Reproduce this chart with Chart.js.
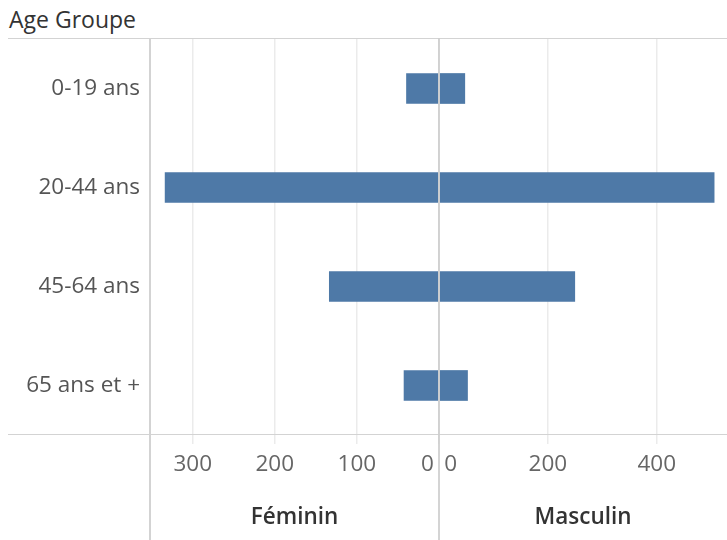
<!DOCTYPE html>
<html>
<head>
<meta charset="utf-8">
<script src="https://cdn.jsdelivr.net/npm/chart.js@4"></script>
<style>
  body { margin: 0; background: #fff; }
  #wrap { position: relative; width: 727px; height: 540px; overflow: hidden; background: #fff; font-family: "Open Sans", sans-serif; }
  canvas { position: absolute; top: 0; }
  #c-fem { left: 0; }
  #c-mas { left: 439px; }
  .hdr { position: absolute; left: 9px; top: 8px; font-size: 23px; line-height: 23px; color: #333; }
  .ln { position: absolute; background: #d3d3d3; z-index: 2; }
</style>
</head>
<body>
<div id="wrap">
  <div class="hdr">Age Groupe</div>
  <canvas id="c-fem" width="439" height="540"></canvas>
  <canvas id="c-mas" width="288" height="540"></canvas>
  <!-- panel frame lines -->
  <div class="ln" style="left:8px; top:38px; width:719px; height:1px;"></div>
  <div class="ln" style="left:8px; top:434px; width:719px; height:1px;"></div>
  <div class="ln" style="left:149px; top:38px; width:2px; height:502px;"></div>
  <div class="ln" style="left:438px; top:38px; width:2px; height:502px; background:rgba(205,205,205,0.85);"></div>
</div>
<script>
// ---- data ----
const ageGroups = ['0-19 ans', '20-44 ans', '45-64 ans', '65 ans et +'];
const feminin = [40, 334, 134, 43];
const masculin = [48, 506, 250, 53];
const femTicks = [0, 100, 200, 300];
const masTicks = [0, 200, 400];
const FEM_MAX = 352;
const MAS_MAX = 529;

const BAR_COLOR = '#4e79a7';
const FONT = '"Open Sans", sans-serif';
const FSIZE = 22.5;

function xAxis(ticks, max, reverse, title, zeroLabel) {
  return {
    type: 'linear',
    min: 0,
    max: max,
    reverse: reverse,
    afterBuildTicks: s => { s.ticks = ticks.map(v => ({ value: v })); },
    afterFit: s => {
      s.height = 105;
      s.paddingLeft = 0;
      s.paddingRight = 0;
    },
    ticks: {
      font: { family: FONT, size: FSIZE },
      color: '#666',
      padding: 7,
      maxRotation: 0,
      autoSkip: false,
      callback: v => (v === 0 ? zeroLabel : String(v)),
    },
    grid: { color: '#ebebeb', lineWidth: 1.5, tickLength: 9 },
    border: { display: false },
    title: {
      display: true,
      text: title,
      font: { family: FONT, size: FSIZE, weight: '600' },
      color: '#333',
      padding: { top: 0, bottom: 9 },
    },
  };
}

function barDataset(values) {
  return {
    data: values,
    backgroundColor: BAR_COLOR,
    categoryPercentage: 1,
    barPercentage: 0.31,
  };
}

const common = {
  indexAxis: 'y',
  responsive: false,
  animation: false,
  devicePixelRatio: 1,
  plugins: { legend: { display: false }, tooltip: { enabled: false } },
  layout: { padding: { top: 39, bottom: 0, left: 0, right: 0 } },
};

new Chart(document.getElementById('c-fem'), {
  type: 'bar',
  data: { labels: ageGroups, datasets: [barDataset(feminin)] },
  options: {
    ...common,
    scales: {
      x: xAxis(femTicks, FEM_MAX, true, 'Féminin', '0\u00a0\u00a0\u00a0\u00a0'),
      y: {
        type: 'category',
        afterFit: s => { s.width = 150; s.paddingTop = 0; s.paddingBottom = 0; },
        ticks: { font: { family: FONT, size: FSIZE }, color: '#555', padding: 10 },
        grid: { display: false, drawTicks: false },
        border: { display: false },
      },
    },
  },
});

new Chart(document.getElementById('c-mas'), {
  type: 'bar',
  data: { labels: ageGroups, datasets: [barDataset(masculin)] },
  options: {
    ...common,
    scales: {
      x: xAxis(masTicks, MAS_MAX, false, 'Masculin', '\u00a0\u00a0\u00a0\u00a00'),
      y: { type: 'category', display: false },
    },
  },
});
</script>
</body>
</html>
